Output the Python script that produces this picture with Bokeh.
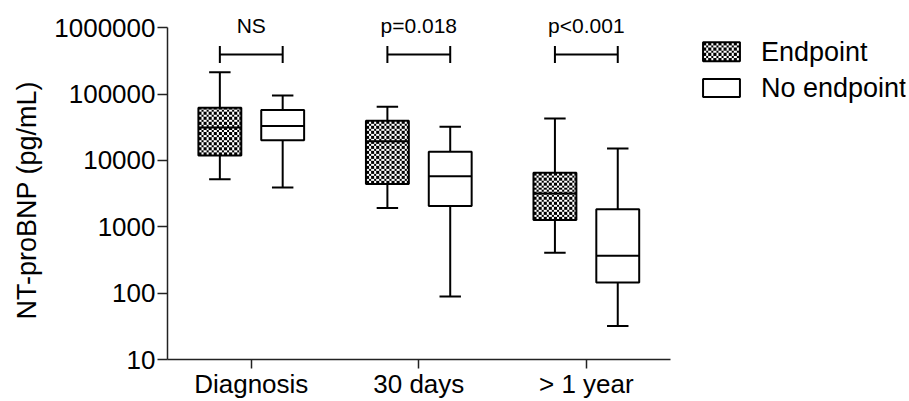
import numpy as np
from bokeh.plotting import figure
from bokeh.models import (Range1d, FixedTicker, NumeralTickFormatter, ColumnDataSource, Title)
from bokeh.core.properties import value
from bokeh.embed import file_html
from bokeh.resources import INLINE

# ---------------- data ----------------
groups = ["Diagnosis", "30 days", "> 1 year"]
series = ["Endpoint", "No endpoint"]

ep_low = [5200, 1920, 405]
ep_q1 = [11900, 4430, 1270]
ep_med = [31400, 19400, 3180]
ep_q3 = [62500, 39500, 6550]
ep_high = [213000, 64700, 42800]

ne_low = [3900, 89, 32]
ne_q1 = [20100, 2060, 145]
ne_med = [33000, 5770, 366]
ne_q3 = [57700, 13500, 1840]
ne_high = [95500, 32100, 15100]

p_labels = ["NS", "p=0.018", "p<0.001"]

y_ticks = [10, 100, 1000, 10000, 100000, 1000000]

# ---------------- layout ----------------
FONT = "Liberation Sans"
W, H = 909, 401
FL, FR, FT, FB = 165, 4, 10, 40          # frame borders (px)
X0, X1 = -0.5, 3.905
YLOG_TOP = 6.26
frame_w = W - FL - FR
frame_h = H - FT - FB
ppx = frame_w / (X1 - X0)
ppd = frame_h / (YLOG_TOP - 1)

offset = 0.1875
box_w = 0.256
cap_w = 0.128
bracket_y = 3.95e5
bracket_lo = 2.95e5
bracket_hi = 5.3e5
ptext_y = 1.07e6


def sx_to_x(sx):
    return X0 + (sx - FL) / ppx


def sy_to_y(sy):
    return 10 ** (1 + (H - FB - sy) / ppd)


def checker(h, w):
    r = np.arange(h)[:, None]
    c = np.arange(w)[None, :]
    black = ((np.floor(r / 2.5) + np.floor(c / 2.5)) % 2) == 0
    return np.where(black, 0xFF000000, 0xFFFFFFFF).astype(np.uint32)


p = figure(width=W, height=H,
           x_range=Range1d(X0, X1), y_range=Range1d(10, 10 ** YLOG_TOP),
           y_axis_type="log", output_backend="svg", toolbar_location=None,
           min_border_left=FL, min_border_right=FR, min_border_top=FT,
           min_border_bottom=FB)
p.outline_line_color = None
p.xgrid.visible = False
p.ygrid.visible = False
p.background_fill_color = "white"
p.border_fill_color = "white"

xs = np.arange(len(groups))


def draw(xc, low, q1, med, q3, high, hatch):
    src = ColumnDataSource(dict(x=xc, low=low, q1=q1, med=med, q3=q3, high=high,
                                cl=xc - cap_w / 2, cr=xc + cap_w / 2,
                                bl=xc - box_w / 2, br=xc + box_w / 2))
    p.segment(x0="x", y0="q3", x1="x", y1="high", source=src, line_color="black", line_width=2)
    p.segment(x0="x", y0="q1", x1="x", y1="low", source=src, line_color="black", line_width=2)
    p.segment(x0="cl", y0="high", x1="cr", y1="high", source=src, line_color="black", line_width=2)
    p.segment(x0="cl", y0="low", x1="cr", y1="low", source=src, line_color="black", line_width=2)
    if hatch:
        wpx = int(round(box_w * ppx))
        imgs = [checker(int(round((np.log10(b) - np.log10(a)) * ppd)), wpx)
                for a, b in zip(q1, q3)]
        p.image_rgba(image=imgs, x=list(xc - box_w / 2), y=list(q1), dw=[box_w] * len(xc),
                     dh=[b - a for a, b in zip(q1, q3)])
        fill = None
    else:
        fill = "white"
    p.vbar(x="x", width=box_w, bottom="q1", top="q3", source=src,
           fill_color=fill, line_color="black", line_width=2)
    p.segment(x0="bl", y0="med", x1="br", y1="med", source=src, line_color="black", line_width=2)


draw(xs - offset, ep_low, ep_q1, ep_med, ep_q3, ep_high, True)
draw(xs + offset, ne_low, ne_q1, ne_med, ne_q3, ne_high, False)

# significance brackets
n = len(groups)
p.segment(x0=list(xs - offset), y0=[bracket_y] * n, x1=list(xs + offset), y1=[bracket_y] * n,
          line_color="black", line_width=2)
p.segment(x0=list(xs - offset), y0=[bracket_lo] * n, x1=list(xs - offset), y1=[bracket_hi] * n,
          line_color="black", line_width=2)
p.segment(x0=list(xs + offset), y0=[bracket_lo] * n, x1=list(xs + offset), y1=[bracket_hi] * n,
          line_color="black", line_width=2)
p.text(x=list(xs), y=[ptext_y] * n, text=p_labels, text_align="center",
       text_baseline="alphabetic", text_font=value(FONT), text_font_size="21px",
       text_color="black")

# legend (drawn by hand so the checker swatch matches the boxes)
lg_x0, lg_x1 = sx_to_x(702), sx_to_x(739)
lg_rows = [(42, 61), (79, 97)]
lg_text_x = sx_to_x(760)
(t1, b1), (t2, b2) = lg_rows
p.image_rgba(image=[checker(b1 - t1, int(round((lg_x1 - lg_x0) * ppx)))],
             x=[lg_x0], y=[sy_to_y(b1)], dw=[lg_x1 - lg_x0], dh=[sy_to_y(t1) - sy_to_y(b1)])
p.quad(left=[lg_x0, lg_x0], right=[lg_x1, lg_x1],
       bottom=[sy_to_y(b1), sy_to_y(b2)], top=[sy_to_y(t1), sy_to_y(t2)],
       fill_color=[None, "white"], line_color="black", line_width=2)
p.text(x=[lg_text_x, lg_text_x], y=[sy_to_y((t1 + b1) / 2), sy_to_y((t2 + b2) / 2)],
       text=series, text_align="left", text_baseline="middle",
       text_font=value(FONT), text_font_size="27px", text_color="black")

# axes
xa = p.xaxis[0]
xa.ticker = FixedTicker(ticks=list(range(len(groups))))
xa.major_label_overrides = {i: g for i, g in enumerate(groups)}
xa.bounds = (-0.5, 2.5)
xa.minor_tick_line_color = None
xa.major_tick_out = 9
xa.major_tick_in = 0
xa.major_label_standoff = 0
xa.major_label_text_font = FONT
xa.major_label_text_font_size = "26px"
xa.major_label_text_color = "black"
xa.axis_line_width = 1.5
xa.major_tick_line_width = 1.5
xa.axis_line_color = "#222222"
xa.major_tick_line_color = "#222222"

ya = p.yaxis[0]
ya.ticker = FixedTicker(ticks=y_ticks)
ya.formatter = NumeralTickFormatter(format="0")
ya.bounds = (10, 1000000)
ya.minor_tick_line_color = None
ya.major_tick_out = 10
ya.major_tick_in = 0
ya.major_label_standoff = 2
ya.major_label_text_font = FONT
ya.major_label_text_font_size = "26px"
ya.major_label_text_color = "black"
ya.axis_line_width = 1.5
ya.major_tick_line_width = 1.5
ya.axis_line_color = "#222222"
ya.major_tick_line_color = "#222222"

ytitle = Title(text="NT-proBNP (pg/mL)", align="left", offset=40, standoff=19,
               text_font=FONT, text_font_size="27px", text_font_style="normal",
               text_color="black")
p.add_layout(ytitle, "left")

open("out.html", "w").write(file_html(p, INLINE))
